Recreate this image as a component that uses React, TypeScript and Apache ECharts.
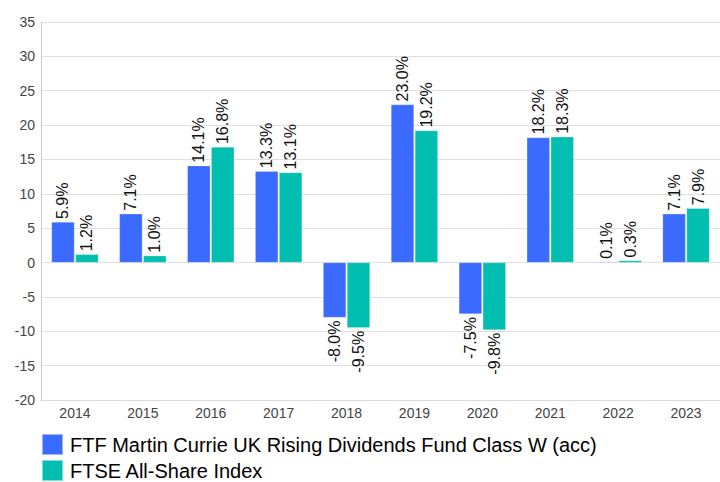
import React, { useEffect, useRef } from "react";
import * as echarts from "echarts";

const years = ["2014", "2015", "2016", "2017", "2018", "2019", "2020", "2021", "2022", "2023"];
const fundName = "FTF Martin Currie UK Rising Dividends Fund Class W (acc)";
const indexName = "FTSE All-Share Index";
const fundValues = [5.9, 7.1, 14.1, 13.3, -8.0, 23.0, -7.5, 18.2, 0.1, 7.1];
const indexValues = [1.2, 1.0, 16.8, 13.1, -9.5, 19.2, -9.8, 18.3, 0.3, 7.9];
const yMin = -20;
const yMax = 35;
const yStep = 5;

const FONT = "Arial, 'Liberation Sans', sans-serif";

function toItems(vals: number[]) {
  return vals.map((v) => ({
    value: v,
    label: {
      align: v >= 0 ? "left" : "right",
    },
  }));
}

export default function App() {
  const ref = useRef<HTMLDivElement>(null);
  useEffect(() => {
    if (!ref.current) return;
    const chart = echarts.init(ref.current, undefined, { renderer: "svg" });
    const labelCfg = {
      show: true,
      position: "outside",
      rotate: 90,
      verticalAlign: "middle",
      distance: 3,
      fontSize: 16,
      color: "#111",
      fontFamily: FONT,
      formatter: (p: any) => Number(p.value).toFixed(1) + "%",
    };
    chart.setOption({
      animation: false,
      grid: { left: 41, right: -4, top: 22, bottom: 82, containLabel: false },
      legend: {
        orient: "vertical",
        left: 41,
        top: 433,
        height: 80,
        padding: 0,
        icon: "rect",
        itemWidth: 21,
        itemHeight: 21,
        itemGap: 3,
        textStyle: { fontSize: 20, lineHeight: 20, color: "#000", fontFamily: FONT, padding: [0, 0, 0, 2] },
        data: [fundName, indexName],
      },
      xAxis: {
        type: "category",
        data: years,
        axisTick: { show: false },
        axisLine: { onZero: false, lineStyle: { color: "#d9d9d9" } },
        axisLabel: { fontSize: 14, color: "#444", fontFamily: FONT, margin: 6 },
      },
      yAxis: {
        type: "value",
        min: yMin,
        max: yMax,
        interval: yStep,
        axisLine: { show: true, lineStyle: { color: "#c8c8c8" } },
        axisTick: { show: false },
        splitLine: { lineStyle: { color: "#e0e0e0" } },
        axisLabel: { fontSize: 14, color: "#444", fontFamily: FONT, margin: 6 },
      },
      series: [
        {
          name: fundName,
          type: "bar",
          data: toItems(fundValues),
          barWidth: 23,
          barGap: "4%",
          itemStyle: { color: "#3a6aff", borderColor: "rgba(255,255,255,0.5)", borderWidth: 0.5 },
          label: labelCfg,
        },
        {
          name: indexName,
          type: "bar",
          data: toItems(indexValues),
          barWidth: 23,
          itemStyle: { color: "#00bfb0", borderColor: "rgba(255,255,255,0.5)", borderWidth: 0.5 },
          label: labelCfg,
        },
      ],
    });
    return () => chart.dispose();
  }, []);
  return (
    <div
      ref={ref}
      style={{ position: "fixed", left: 0, top: 0, width: 720, height: 482, background: "#fff" }}
    />
  );
}
